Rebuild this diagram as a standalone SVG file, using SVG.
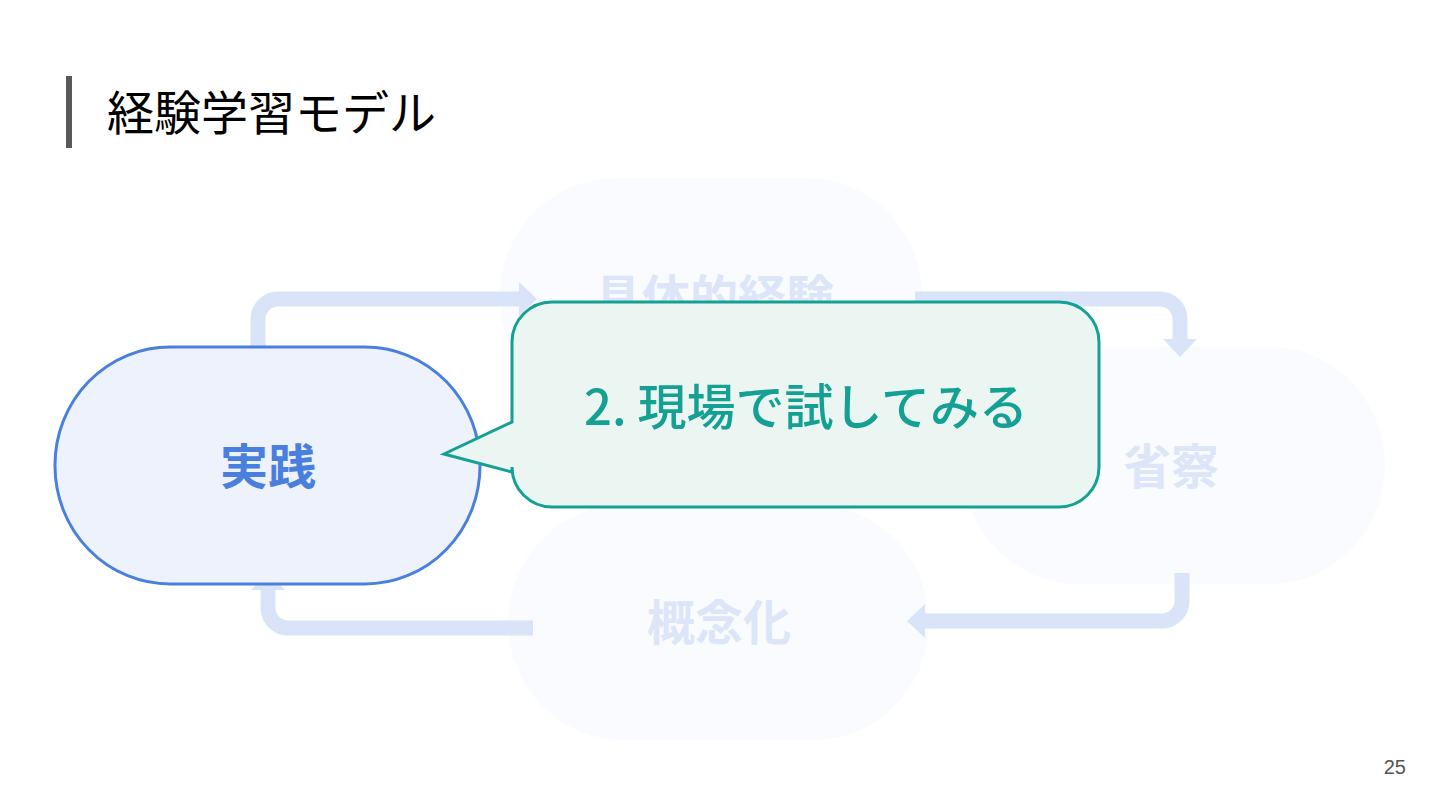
<svg xmlns="http://www.w3.org/2000/svg" width="1440" height="810" viewBox="0 0 1440 810">
<defs>
<style>
.cjk{font-family:"Noto Sans CJK JP","Noto Sans CJK SC",sans-serif;}
.faint{fill:#f9fbfe;}
.ftxt{fill:#dde6f8;font-size:48px;font-weight:700;text-anchor:middle;}
.conn{fill:none;stroke:#d9e4f8;stroke-width:15;stroke-linecap:butt;}
</style>
<marker id="ah" viewBox="0 0 18 34" refX="0" refY="17" markerWidth="18" markerHeight="34" markerUnits="userSpaceOnUse" orient="auto">
<polygon points="0,0 18,17 0,34" fill="#d9e4f8"/>
</marker>
</defs>
<rect width="1440" height="810" fill="#ffffff"/>
<g id="title">
<rect x="66" y="76" width="6" height="72" fill="#595959"/>
<text x="107" y="130" class="cjk" font-size="47" fill="#000000">経験学習モデル</text>
</g>
<g id="node-concrete">
<rect x="500" y="178" width="422" height="237" rx="115" ry="118" class="faint"/>
<text x="714" y="315" class="cjk ftxt">具体的経験</text>
</g>
<g id="node-reflect">
<rect x="963" y="347" width="422" height="237" rx="115" ry="118" class="faint"/>
<text x="1171" y="484" class="cjk ftxt">省察</text>
</g>
<g id="node-concept">
<rect x="508" y="505" width="421" height="235" rx="115" ry="118" class="faint"/>
<text x="719" y="640" class="cjk ftxt">概念化</text>
</g>
<g id="connectors">
<path class="conn" d="M258 347 V319 A20 20 0 0 1 278 299 H519" marker-end="url(#ah)"/>
<path class="conn" d="M915 299 H1160 A20 20 0 0 1 1180 319 V339" marker-end="url(#ah)"/>
<path class="conn" d="M1182 573 V601 A20 20 0 0 1 1162 621 H925" marker-end="url(#ah)"/>
<path class="conn" d="M533 628 H288 A20 20 0 0 1 268 608 V590" marker-end="url(#ah)"/>
</g>
<g id="node-practice">
<rect x="55" y="347" width="425" height="237" rx="115" ry="118" fill="#edf2fc" stroke="#4a80dd" stroke-width="3"/>
<text x="268" y="484" class="cjk" font-size="48" font-weight="700" fill="#4a80dd" text-anchor="middle">実践</text>
</g>
<g id="callout">
<path d="M552 302 H1059 A40 40 0 0 1 1099 342 V467 A40 40 0 0 1 1059 507 H552 A40 40 0 0 1 512 467 V472 L444 454 L512 422 V342 A40 40 0 0 1 552 302 Z" fill="#ebf6f3" stroke="#14a092" stroke-width="3" stroke-linejoin="miter"/>
<text x="806" y="425" class="cjk" font-size="49" font-weight="500" fill="#14a092" text-anchor="middle">2. 現場で試してみる</text>
</g>
<text x="1406" y="774" font-family="Liberation Sans, Arial, sans-serif" font-size="20" fill="#555555" text-anchor="end">25</text>
</svg>
